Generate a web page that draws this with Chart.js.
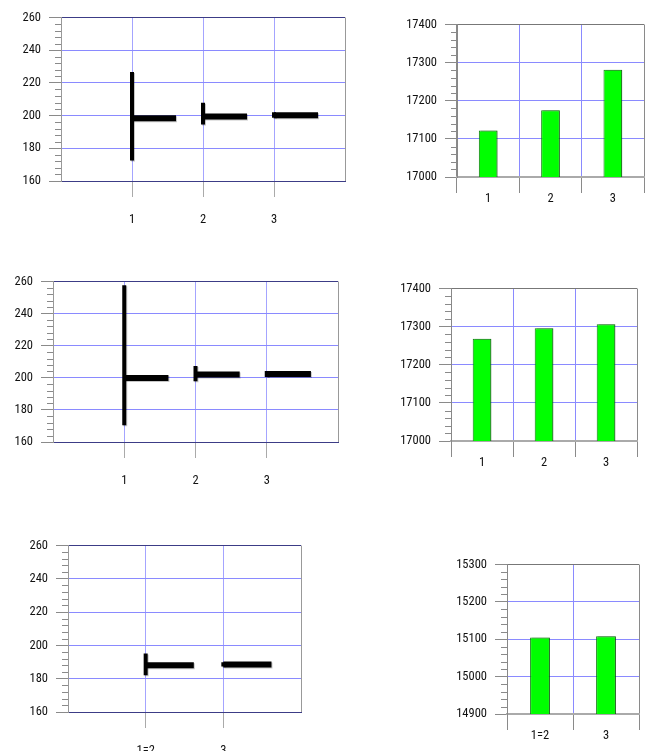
<!DOCTYPE html>
<html>
<head>
<meta charset="utf-8">
<script src="https://cdn.jsdelivr.net/npm/chart.js@4.4.1/dist/chart.umd.min.js"></script>
<style>
  body { margin: 0; background: #fff; width: 649px; height: 751px; overflow: hidden; position: relative; }
  canvas { position: absolute; }
</style>
</head>
<body>
<canvas id="range1"></canvas>
<canvas id="bars1"></canvas>
<canvas id="range2"></canvas>
<canvas id="bars2"></canvas>
<canvas id="range3"></canvas>
<canvas id="bars3"></canvas>
<script>
// top row
const rangeCats1 = ['1', '2', '3'];
const rangeMin1 = [172.6, 194.6, 198.7];
const rangeMax1 = [226.7, 207.8, 202.0];
const rangeMean1 = [198.4, 199.4, 200.2];
const barCats1 = ['1', '2', '3'];
const barValues1 = [17122, 17175, 17281];

// middle row
const rangeCats2 = ['1', '2', '3'];
const rangeMin2 = [170.4, 197.9, 200.5];
const rangeMax2 = [257.6, 207.3, 204.3];
const rangeMean2 = [199.9, 202.1, 202.4];
const barCats2 = ['1', '2', '3'];
const barValues2 = [17268, 17296, 17306];

// bottom row
const rangeCats3 = ['1=2', '3'];
const rangeMin3 = [182.1, 187.4];
const rangeMax3 = [195.2, 189.9];
const rangeMean3 = [188.1, 188.5];
const barCats3 = ['1=2', '3'];
const barValues3 = [15105, 15108];

// axis ranges: [min, max, major step, minor step]
const rangeAxis = [160, 260, 20, 4];
const barAxisTop = [17000, 17400, 100, 20];
const barAxisBottom = [14900, 15300, 100, 20];

const FONT = "'Roboto Condensed', Roboto, 'Liberation Sans', sans-serif";
const FONT_SIZE = 12.5;
const meanBarLen = 0.62;
const padTop = 10, padRight = 3;

const minorTicks = {
    id: 'minorTicks',
    afterDraw(chart, args, opts) {
        const y = chart.scales.y;
        const ctx = chart.ctx;
        const n = Math.round((y.max - y.min) / opts.step);
        const every = Math.round(opts.major / opts.step);
        ctx.save();
        ctx.strokeStyle = '#8a8a8a';
        ctx.lineWidth = 1;
        ctx.beginPath();
        for (let i = 1; i < n; i++) {
            if (i % every === 0) continue;
            const py = Math.round(y.getPixelForValue(y.min + i * opts.step)) + 0.5;
            ctx.moveTo(y.right - 6, py);
            ctx.lineTo(y.right, py);
        }
        ctx.stroke();
        ctx.restore();
    }
};

// soft grey drop shadow like the original plots
const markShadow = {
    id: 'markShadow',
    beforeDatasetsDraw(chart, args, opts) {
        const ctx = chart.ctx;
        ctx.save();
        ctx.shadowColor = opts.color;
        ctx.shadowOffsetX = opts.dx;
        ctx.shadowOffsetY = opts.dy;
        ctx.shadowBlur = 0;
    },
    afterDatasetsDraw(chart) {
        chart.ctx.restore();
    }
};

function place(id, plot, yW, xH) {
    const c = document.getElementById(id);
    const w = yW + plot.w + padRight;
    const h = padTop + plot.h + xH;
    c.width = w;
    c.height = h;
    c.style.left = (plot.x - yW) + 'px';
    c.style.top = (plot.y - padTop) + 'px';
    c.style.width = w + 'px';
    c.style.height = h + 'px';
    return c;
}

function rangeDatasets(mins, maxs, means) {
    const sets = [];
    const common = { borderColor: '#000', backgroundColor: '#000', pointRadius: 0, borderCapStyle: 'butt', tension: 0 };
    for (let i = 0; i < mins.length; i++) {
        const pos = i + 1;
        sets.push({ ...common, data: [{ x: pos, y: mins[i] }, { x: pos, y: maxs[i] }], borderWidth: 4 });
        sets.push({ ...common, data: [{ x: pos, y: means[i] }, { x: pos + meanBarLen, y: means[i] }], borderWidth: 6 });
    }
    return sets;
}

function drawRangeChart(id, plot, cats, mins, maxs, means) {
    const yW = 50, xH = 52;
    const canvas = place(id, plot, yW, xH);
    const xMax = cats.length + 1;
    new Chart(canvas, {
        type: 'line',
        data: { datasets: rangeDatasets(mins, maxs, means) },
        options: {
            responsive: false,
            animation: false,
            layout: { padding: { top: padTop, right: padRight, left: 0, bottom: 0 } },
            plugins: { legend: { display: false }, tooltip: { enabled: false },
                minorTicks: { step: rangeAxis[3], major: rangeAxis[2] },
                markShadow: { color: 'rgba(0,0,0,0.22)', dx: 1, dy: 1 } },
            scales: {
                x: {
                    type: 'linear', min: 0, max: xMax,
                    afterFit: s => { s.height = xH; },
                    ticks: { stepSize: 1, autoSkip: false, padding: 15, color: '#111',
                        font: { family: FONT, size: FONT_SIZE },
                        callback: v => cats[v - 1] || '' },
                    grid: {
                        tickLength: 16,
                        color: c => c.tick.value === 0 ? 'rgba(0,0,0,0)' : (c.tick.value === xMax ? '#999' : '#a4a4ff'),
                        tickColor: c => (c.tick.value === 0 || c.tick.value === xMax) ? 'rgba(0,0,0,0)' : '#aaa'
                    },
                    border: { color: '#3c3c86' }
                },
                y: {
                    min: rangeAxis[0], max: rangeAxis[1],
                    afterFit: s => { s.width = yW; },
                    ticks: { stepSize: rangeAxis[2], padding: 8, color: '#111',
                        font: { family: FONT, size: FONT_SIZE }, callback: v => String(v) },
                    grid: {
                        tickLength: 12,
                        color: c => (c.tick.value === rangeAxis[0] || c.tick.value === rangeAxis[1]) ? '#3c3c86' : '#8a8aff',
                        tickColor: '#8a8a8a'
                    },
                    border: { color: '#999' }
                }
            }
        },
        plugins: [minorTicks, markShadow]
    });
}

function drawBarChart(id, plot, cats, values, axis) {
    const yW = 60, xH = 40;
    const canvas = place(id, plot, yW, xH);
    new Chart(canvas, {
        type: 'bar',
        data: {
            labels: cats,
            datasets: [{ data: values, backgroundColor: '#00ff00', borderColor: '#0f7a0f', borderWidth: 1,
                barPercentage: 1, categoryPercentage: 0.3 }]
        },
        options: {
            responsive: false,
            animation: false,
            layout: { padding: { top: padTop, right: padRight, left: 0, bottom: 0 } },
            plugins: { legend: { display: false }, tooltip: { enabled: false },
                minorTicks: { step: axis[3], major: axis[2] },
                markShadow: { color: 'rgba(0,0,0,0.28)', dx: 2, dy: 0 } },
            scales: {
                x: {
                    afterFit: s => { s.height = xH; },
                    ticks: { padding: -2, color: '#111', font: { family: FONT, size: FONT_SIZE } },
                    grid: {
                        offset: true,
                        tickLength: 16,
                        color: c => (c.tick === undefined || c.index === 0) ? '#8a8a8a' : '#8a8aff',
                        tickColor: '#8a8a8a'
                    },
                    border: { color: '#aaa', width: 2 }
                },
                y: {
                    min: axis[0], max: axis[1],
                    afterFit: s => { s.width = yW; },
                    ticks: { stepSize: axis[2], padding: 8, color: '#111',
                        font: { family: FONT, size: FONT_SIZE }, callback: v => String(v) },
                    grid: {
                        tickLength: 12,
                        color: c => c.tick.value === axis[1] ? '#777' : (c.tick.value === axis[0] ? '#aaa' : '#8a8aff'),
                        tickColor: '#8a8a8a'
                    },
                    border: { color: '#888' }
                }
            }
        },
        plugins: [minorTicks, markShadow]
    });
}

drawRangeChart('range1', { x: 61, y: 12, w: 296, h: 169 }, rangeCats1, rangeMin1, rangeMax1, rangeMean1);
drawBarChart('bars1', { x: 457, y: 19, w: 187, h: 158 }, barCats1, barValues1, barAxisTop);
drawRangeChart('range2', { x: 53, y: 276, w: 297, h: 166 }, rangeCats2, rangeMin2, rangeMax2, rangeMean2);
drawBarChart('bars2', { x: 451, y: 283, w: 186, h: 158 }, barCats2, barValues2, barAxisTop);
drawRangeChart('range3', { x: 68, y: 540, w: 245, h: 172 }, rangeCats3, rangeMin3, rangeMax3, rangeMean3);
drawBarChart('bars3', { x: 507, y: 559, w: 132, h: 155 }, barCats3, barValues3, barAxisBottom);
</script>
</body>
</html>
